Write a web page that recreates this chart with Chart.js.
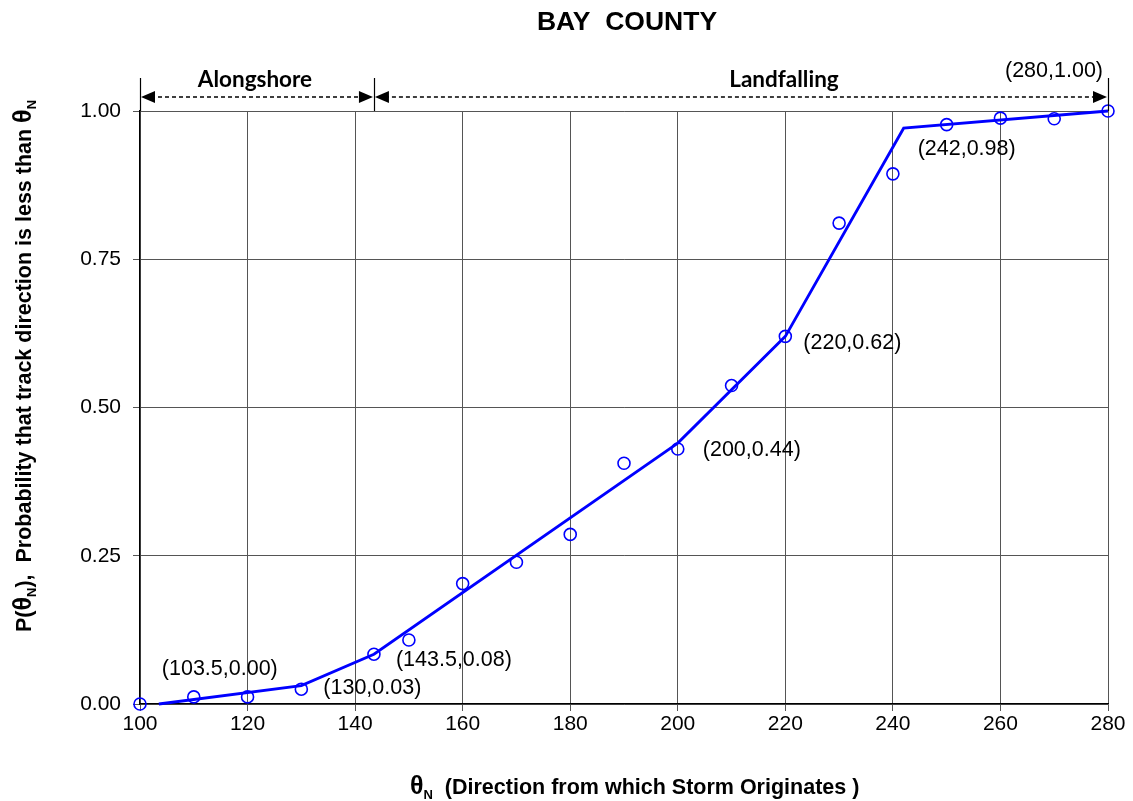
<!DOCTYPE html>
<html>
<head>
<meta charset="utf-8">
<script src="https://cdn.jsdelivr.net/npm/chart.js@4"></script>
<style>
  html, body { margin: 0; padding: 0; background: #fff; }
  #wrap { width: 1133px; height: 801px; }
</style>
</head>
<body>
<div id="wrap"><canvas id="cdfChart" width="1133" height="801"></canvas></div>
<script>
// observed points (hollow circles)
const obsTheta = [100, 110, 120, 130, 143.5, 150, 160, 170, 180, 190, 200, 210, 220, 230, 240, 250, 260, 270, 280];
const obsProb = [0.0, 0.012, 0.012, 0.025, 0.084, 0.108, 0.203, 0.239, 0.286, 0.406, 0.430, 0.537, 0.620, 0.811, 0.894, 0.977, 0.988, 0.987, 1.0];

// fitted piecewise line
const fitTheta = [103.5, 130, 143.5, 200, 220, 242, 280];
const fitProb = [0.0, 0.031, 0.084, 0.44, 0.62, 0.971, 1.0];

// labelled break points
const labelTheta = [103.5, 130, 143.5, 200, 220, 242, 280];
const labelProb = [0.0, 0.03, 0.08, 0.44, 0.62, 0.98, 1.0];
const labelText = ['(103.5,0.00)', '(130,0.03)', '(143.5,0.08)', '(200,0.44)', '(220,0.62)', '(242,0.98)', '(280,1.00)'];

// regions along the top
const regionNames = ['Alongshore', 'Landfalling'];
const regionBounds = [100, 143.5, 280];

const xTicks = [100, 120, 140, 160, 180, 200, 220, 240, 260, 280];
const yTicks = [0, 0.25, 0.5, 0.75, 1.0];

const BLUE = '#0000ff';
const FONT = '"Liberation Sans", Arial, sans-serif';

// pixel offsets for each label (dx, dy from the point)
const labelPos = [
  { dx: 3, dy: -35 },
  { dx: 22, dy: 2 },
  { dx: 22, dy: 4 },
  { dx: 25, dy: 7 },
  { dx: 18, dy: 7 },
  { dx: 14, dy: 26 },
  { dx: -103, dy: -40 }
];

// draws text runs with subscripts, left to right
function drawRich(ctx, parts, x, y, align) {
  let total = 0;
  parts.forEach(p => { ctx.font = p.font; total += ctx.measureText(p.t).width; });
  let cx = align === 'center' ? x - total / 2 : x;
  ctx.textAlign = 'left';
  ctx.textBaseline = 'alphabetic';
  parts.forEach(p => {
    ctx.font = p.font;
    ctx.fillText(p.t, cx, y + (p.dy || 0));
    cx += ctx.measureText(p.t).width;
  });
}

function arrowHead(ctx, x, y, dir) {
  ctx.beginPath();
  ctx.moveTo(x, y);
  ctx.lineTo(x - dir * 14, y - 6);
  ctx.lineTo(x - dir * 14, y + 6);
  ctx.closePath();
  ctx.fill();
}

const decorPlugin = {
  id: 'decor',
  afterDraw(chart) {
    const ctx = chart.ctx;
    const xs = chart.scales.x, ys = chart.scales.y;
    const area = chart.chartArea;
    ctx.save();
    ctx.fillStyle = '#000';

    // title
    ctx.font = 'bold 26.5px ' + FONT;
    ctx.textAlign = 'center';
    ctx.textBaseline = 'alphabetic';
    ctx.fillText('BAY  COUNTY', 627, 30);

    // break point labels
    ctx.font = '21.5px ' + FONT;
    labelText.forEach((t, i) => {
      const px = xs.getPixelForValue(labelTheta[i]);
      const py = ys.getPixelForValue(labelProb[i]);
      ctx.textAlign = 'left';
      ctx.textBaseline = 'middle';
      ctx.fillText(t, px + labelPos[i].dx, py + labelPos[i].dy);
    });

    // region arrows
    const ay = area.top - 14;
    ctx.strokeStyle = '#000';
    ctx.lineWidth = 1.2;
    regionBounds.forEach(b => {
      const bx = Math.round(xs.getPixelForValue(b)) + 0.5;
      ctx.beginPath();
      ctx.moveTo(bx, area.top - 33);
      ctx.lineTo(bx, area.top);
      ctx.stroke();
    });
    regionNames.forEach((name, i) => {
      const x0 = xs.getPixelForValue(regionBounds[i]) + 1;
      const x1 = xs.getPixelForValue(regionBounds[i + 1]) - 1;
      ctx.setLineDash([4, 3]);
      ctx.lineWidth = 1.3;
      ctx.beginPath();
      ctx.moveTo(x0 + 10, ay);
      ctx.lineTo(x1 - 10, ay);
      ctx.stroke();
      ctx.setLineDash([]);
      arrowHead(ctx, x0, ay, -1);
      arrowHead(ctx, x1, ay, 1);
      ctx.font = 'bold 22.5px Lato, "Open Sans", sans-serif';
      ctx.textAlign = 'center';
      ctx.textBaseline = 'alphabetic';
      const cx = i === 0 ? (x0 + x1) / 2 - 2 : (x0 + x1) / 2 + 43;
      ctx.fillText(name, cx, area.top - 24);
    });

    // x axis title
    const bigT = 'bold 25px ' + FONT;
    const txt = 'bold 21.5px ' + FONT;
    const sub = 'bold 13px ' + FONT;
    drawRich(ctx, [
      { t: '\u03B8', font: bigT },
      { t: 'N', font: sub, dy: 5 },
      { t: '  (Direction from which Storm Originates )', font: txt }
    ], 410, 794, 'left');

    // y axis title (rotated)
    ctx.translate(31, 366);
    ctx.rotate(-Math.PI / 2);
    drawRich(ctx, [
      { t: 'P(', font: txt },
      { t: '\u03B8', font: bigT },
      { t: 'N', font: sub, dy: 5 },
      { t: '),  Probability that track direction is less than ', font: txt },
      { t: '\u03B8', font: bigT },
      { t: 'N', font: sub, dy: 5 }
    ], 0, 0, 'center');
    ctx.restore();
  }
};

function createChart() {
  const ctx = document.getElementById('cdfChart').getContext('2d');
  new Chart(ctx, {
    type: 'scatter',
    data: {
      datasets: [
        {
          label: 'fit',
          data: fitTheta.map((t, i) => ({ x: t, y: fitProb[i] })),
          showLine: true,
          borderColor: BLUE,
          borderWidth: 2.8,
          pointRadius: 0,
          tension: 0,
          clip: false
        },
        {
          label: 'observed',
          data: obsTheta.map((t, i) => ({ x: t, y: obsProb[i] })),
          showLine: false,
          pointStyle: 'circle',
          pointRadius: 6,
          borderColor: BLUE,
          borderWidth: 1.6,
          backgroundColor: 'rgba(255,255,255,0)',
          clip: false
        }
      ]
    },
    options: {
      responsive: false,
      animation: false,
      layout: { padding: { left: 40, right: 25, top: 111, bottom: 57 } },
      plugins: {
        legend: { display: false },
        tooltip: { enabled: false }
      },
      scales: {
        x: {
          type: 'linear',
          min: 100,
          max: 280,
          afterBuildTicks: s => { s.ticks = xTicks.map(v => ({ value: v })); },
          afterFit: s => { s.height = 40; },
          border: { color: '#000', width: 1.3 },
          grid: { color: '#555', lineWidth: 1, tickLength: 7 },
          ticks: {
            color: '#000',
            font: { family: FONT, size: 21 },
            padding: 1
          }
        },
        y: {
          min: 0,
          max: 1,
          afterBuildTicks: s => { s.ticks = yTicks.map(v => ({ value: v })); },
          afterFit: s => { s.width = 100; },
          border: { color: '#000', width: 1.3 },
          grid: { color: '#555', lineWidth: 1, tickLength: 7 },
          ticks: {
            color: '#000',
            font: { family: FONT, size: 21 },
            padding: 12,
            callback: v => v.toFixed(2)
          }
        }
      }
    },
    plugins: [decorPlugin]
  });
}

createChart();
</script>
</body>
</html>
